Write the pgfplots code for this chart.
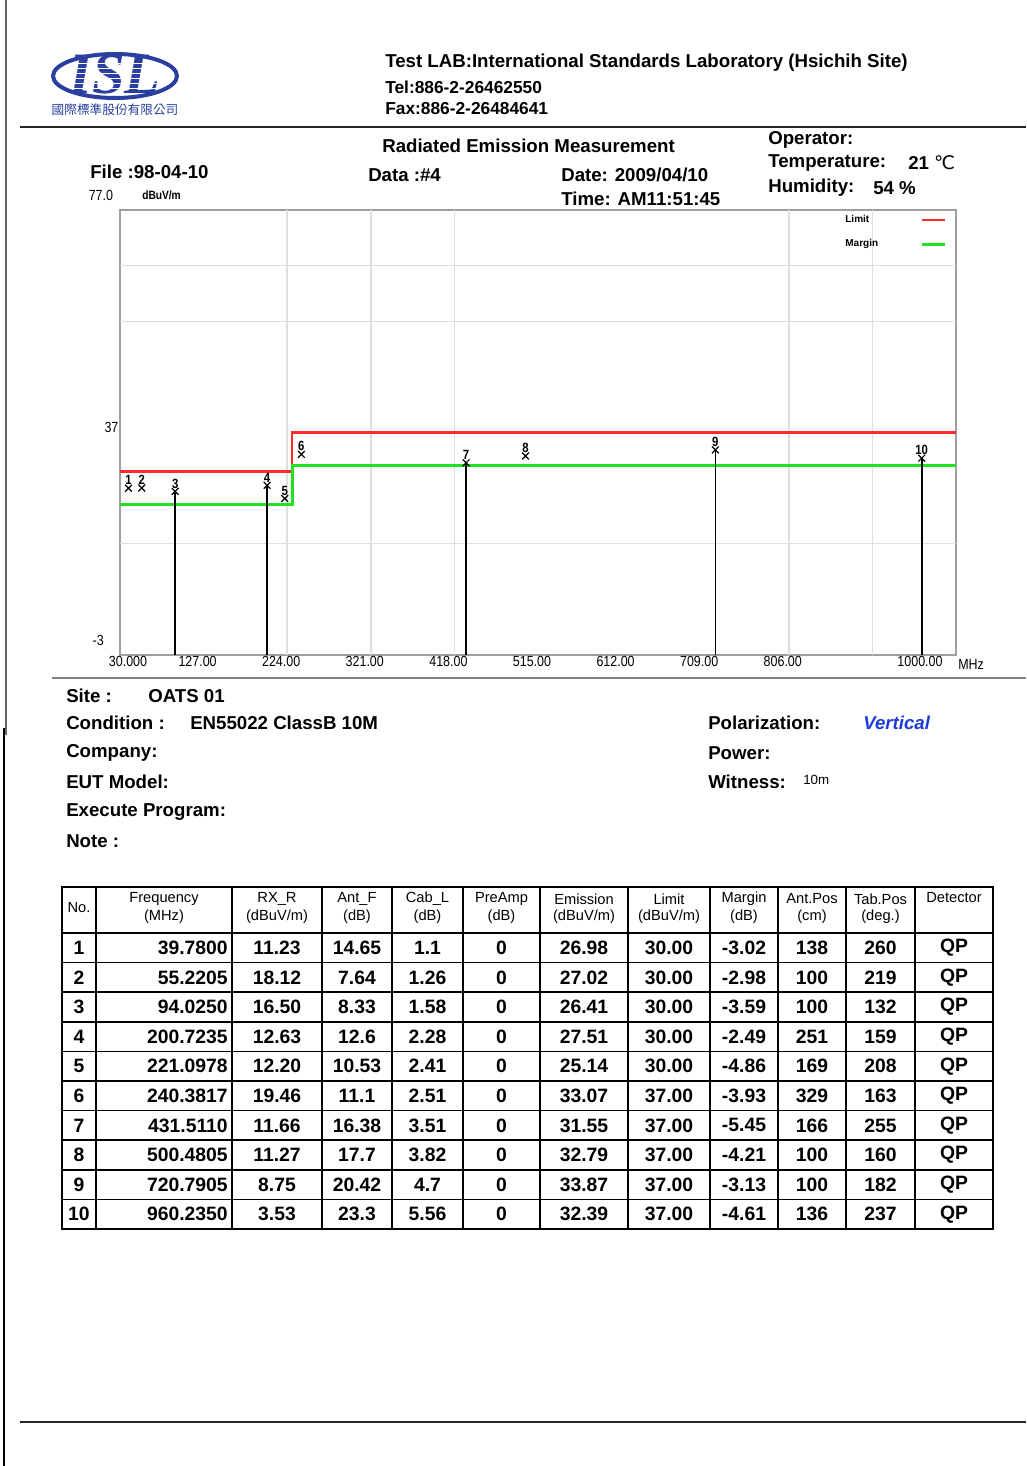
\documentclass[border=0pt]{standalone}
\usepackage{fontspec}
\setmainfont{Liberation Sans}
\newfontfamily\cond[FakeStretch=0.85]{Liberation Sans}
\newfontfamily\dejavu{DejaVu Sans}
\newfontfamily\cjk{Noto Sans CJK TC}
\newfontfamily\serifb{Liberation Serif}
\usepackage{pgfplots}
\pgfplotsset{compat=1.18}
\definecolor{limred}{HTML}{FF2A2A}
\definecolor{margreen}{HTML}{22E022}
\definecolor{islblue}{HTML}{2A3F9F}
\definecolor{polblue}{HTML}{1E3CD8}
\newcommand\fs[1]{\fontsize{#1}{#1}\selectfont}
\begin{document}
\begin{tikzpicture}
\useasboundingbox (0,0) rectangle (769.5pt,-1099.5pt);
\begin{axis}[
  at={(90pt,-491.25pt)}, anchor=south west,
  scale only axis, width=627pt, height=333.75pt,
  xmin=30, xmax=1000, ymin=-3, ymax=77,
  axis line style={draw=gray!75, line width=1.2pt},
  major tick length=0pt,
  xtick={30,127,224,321,418,515,612,709,806,1000},
  xticklabels={\hspace{21pt}30.000,127.00,224.00,321.00,418.00,515.00,612.00,709.00,806.00,1000.00\hspace{45pt}\null},
  xticklabel style={font=\cond\fs{11pt}, xshift=-4.5pt, inner sep=1pt},
  ytick={-3,37,77},
  yticklabels={\smash{\raisebox{7.5pt}{-3\hspace{11pt}\null}},\smash{37},\smash{\raisebox{7.5pt}{77.0\hspace{4pt}\null}}},
  yticklabel style={font=\cond\fs{11pt}, inner sep=1pt},
  extra x ticks={224,321,418,806,903},
  extra x tick labels={},
  extra y ticks={17,57,67},
  extra y tick labels={},
  extra tick style={grid=major, major grid style={draw=gray!25, line width=1.1pt}},
  legend style={at={(1,1)}, anchor=north east, xshift=-6pt, yshift=-1pt, draw=none, fill=none,
    font=\fs{7.5pt}\bfseries, row sep=7pt, column sep=30pt, inner sep=1pt},
  legend plot pos=right,
  legend cell align=left,
]
\addplot[limred, line width=1.6pt] coordinates {(30,30) (230,30) (230,37) (1000,37)};
\addlegendentry{Limit}
\addplot[margreen, line width=2.1pt] coordinates {(30,24) (230,24) (230,31) (1000,31)};
\addlegendentry{Margin}
\addplot[black, line width=1.2pt, forget plot] coordinates {(94.025,-3) (94.025,26.41)};
\addplot[black, line width=1.2pt, forget plot] coordinates {(200.7235,-3) (200.7235,27.51)};
\addplot[black, line width=1.2pt, forget plot] coordinates {(431.511,-3) (431.511,31.55)};
\addplot[black, line width=1.2pt, forget plot] coordinates {(720.7905,-3) (720.7905,33.87)};
\addplot[black, line width=1.2pt, forget plot] coordinates {(960.235,-3) (960.235,32.39)};
\addplot[only marks, mark=x, mark size=3.6pt, black, mark options={line width=0.9pt}, forget plot,
  nodes near coords, point meta=explicit symbolic,
  every node near coord/.append style={font=\cond\bfseries\fs{10pt}, anchor=south, inner sep=0.5pt, yshift=1.5pt}]
  table[meta=lab] {
x y lab
39.78 26.98 1
55.2205 27.02 2
94.025 26.41 3
200.7235 27.51 4
221.0978 25.14 5
240.3817 33.07 6
431.511 31.55 7
500.4805 32.79 8
720.7905 33.87 9
960.235 32.39 10
};
\end{axis}
\begin{scope}[x=0.75pt, y=-0.75pt, every node/.style={inner sep=0pt}]
% borders and rules
\draw[gray!80!black, line width=1.5pt] (6,0) -- (6,735);
\draw[black, line width=0.8pt] (4,728) -- (4,1466);
\draw[black!85, line width=2pt] (20,127) -- (1026,127);
\draw[gray, line width=1.5pt] (52,678) -- (1026,678);
\draw[black!85, line width=2.2pt] (20,1422) -- (1026,1422);
% logo
\draw[islblue, line width=3pt] (115,76) ellipse [x radius=46.5pt, y radius=16.5pt];
\node[islblue] at (115,74) {\serifb\bfseries\itshape\fs{44pt}ISL};
\foreach \s in {63,68,73,78,83,88}
  \draw[white, line width=0.6pt] (74,\s) -- (158,\s);
\node[islblue] at (115,110) {\cjk\fs{9.5pt}國際標準股份有限公司};
% header
\node[anchor=west] at (385,63) {\bfseries\fs{14pt}Test LAB:International Standards Laboratory (Hsichih Site)};
\node[anchor=west] at (385,87) {\bfseries\fs{13pt}Tel:886-2-26462550};
\node[anchor=west] at (385,109) {\bfseries\fs{13pt}Fax:886-2-26484641};
\node[anchor=west] at (382,146) {\bfseries\fs{14pt}Radiated Emission Measurement};
\node[anchor=west] at (90,172) {\bfseries\fs{14pt}File :98-04-10};
\node[anchor=west] at (368,175) {\bfseries\fs{14pt}Data :\#4};
\node[anchor=west] at (561,175) {\bfseries\fs{14pt}Date: 2009/04/10};
\node[anchor=west] at (561,199) {\bfseries\fs{14pt}Time: AM11:51:45};
\node[anchor=west] at (768,140) {\bfseries\fs{14pt}Operator:};
\node[anchor=west] at (768,163) {\bfseries\fs{14pt}Temperature:};
\node[anchor=west] at (908,163) {\bfseries\fs{14pt}21 {\dejavu\mdseries ℃}};
\node[anchor=west] at (768,188) {\bfseries\fs{14pt}Humidity:};
\node[anchor=west] at (873,188) {\bfseries\fs{14pt}54 \%};
\node[anchor=west] at (142,195) {\cond\bfseries\fs{9pt}dBuV/m};
\node[anchor=west] at (958,664) {\cond\fs{11pt}MHz};
% info
\node[anchor=west] at (66,696) {\bfseries\fs{14pt}Site :};
\node[anchor=west] at (148,696) {\bfseries\fs{14pt}OATS 01};
\node[anchor=west] at (66,723) {\bfseries\fs{14pt}Condition :};
\node[anchor=west] at (190,723) {\bfseries\fs{14pt}EN55022 ClassB 10M};
\node[anchor=west] at (66,753) {\bfseries\fs{14pt}Company:};
\node[anchor=west] at (66,782) {\bfseries\fs{14pt}EUT Model:};
\node[anchor=west] at (66,812) {\bfseries\fs{14pt}Execute Program:};
\node[anchor=west] at (66,841) {\bfseries\fs{14pt}Note :};
\node[anchor=west] at (708,723) {\bfseries\fs{14pt}Polarization:};
\node[anchor=west, polblue] at (863,723) {\bfseries\itshape\fs{14pt}Vertical};
\node[anchor=west] at (708,753) {\bfseries\fs{14pt}Power:};
\node[anchor=west] at (708,782) {\bfseries\fs{14pt}Witness:};
\node[anchor=west] at (803,780) {\fs{10pt}10m};
% table grid
\foreach \xx in {96,232,322,392,463,540,628,710,778,846,915}
  \draw[black, line width=1.3pt] (\xx,887) -- (\xx,1229);
\foreach \k in {0,...,9}
  \draw[black, line width=1.3pt] (62,{933+\k*29.6}) -- (993,{933+\k*29.6});
\draw[black, line width=2pt] (62,887) rectangle (993,1229);
% table header
\begin{scope}[every node/.style={inner sep=0pt, font=\fs{11pt}}]
\node at (79,908) {No.};
\node at (164,899) {Frequency}; \node at (164,917) {(MHz)};
\node at (277,899) {RX\_R}; \node at (277,917) {(dBuV/m)};
\node at (357,899) {Ant\_F}; \node at (357,917) {(dB)};
\node at (427.5,899) {Cab\_L}; \node at (427.5,917) {(dB)};
\node at (501.5,899) {PreAmp}; \node at (501.5,917) {(dB)};
\node at (584,899) {Emission}; \node at (584,917) {(dBuV/m)};
\node at (669,899) {Limit}; \node at (669,917) {(dBuV/m)};
\node at (744,899) {Margin}; \node at (744,917) {(dB)};
\node at (812,899) {Ant.Pos}; \node at (812,917) {(cm)};
\node at (880.5,899) {Tab.Pos}; \node at (880.5,917) {(deg.)};
\node at (954,898) {Detector};
\end{scope}
% table rows
\begin{scope}[every node/.style={inner sep=0pt, font=\bfseries\fs{14.5pt}}]
\foreach \cA/\cB/\cC/\cD/\cE/\cF/\cG/\cH/\cI/\cJ/\cK/\cL [count=\i] in {
1/39.7800/11.23/14.65/1.1/0/26.98/30.00/-3.02/138/260/QP,
2/55.2205/18.12/7.64/1.26/0/27.02/30.00/-2.98/100/219/QP,
3/94.0250/16.50/8.33/1.58/0/26.41/30.00/-3.59/100/132/QP,
4/200.7235/12.63/12.6/2.28/0/27.51/30.00/-2.49/251/159/QP,
5/221.0978/12.20/10.53/2.41/0/25.14/30.00/-4.86/169/208/QP,
6/240.3817/19.46/11.1/2.51/0/33.07/37.00/-3.93/329/163/QP,
7/431.5110/11.66/16.38/3.51/0/31.55/37.00/-5.45/166/255/QP,
8/500.4805/11.27/17.7/3.82/0/32.79/37.00/-4.21/100/160/QP,
9/720.7905/8.75/20.42/4.7/0/33.87/37.00/-3.13/100/182/QP,
10/960.2350/3.53/23.3/5.56/0/32.39/37.00/-4.61/136/237/QP}
{
  \pgfmathsetmacro\yy{947.8+(\i-1)*29.6}
  \node at (79,\yy) {\cA};
  \node[anchor=east] at (228,\yy) {\cB};
  \node at (277,\yy) {\cC};
  \node at (357,\yy) {\cD};
  \node at (427.5,\yy) {\cE};
  \node at (501.5,\yy) {\cF};
  \node at (584,\yy) {\cG};
  \node at (669,\yy) {\cH};
  \node at (744,\yy) {\cI};
  \node at (812,\yy) {\cJ};
  \node at (880.5,\yy) {\cK};
  \node at (954,\yy) {\cL};
}
\end{scope}
\end{scope}
\end{tikzpicture}
\end{document}
